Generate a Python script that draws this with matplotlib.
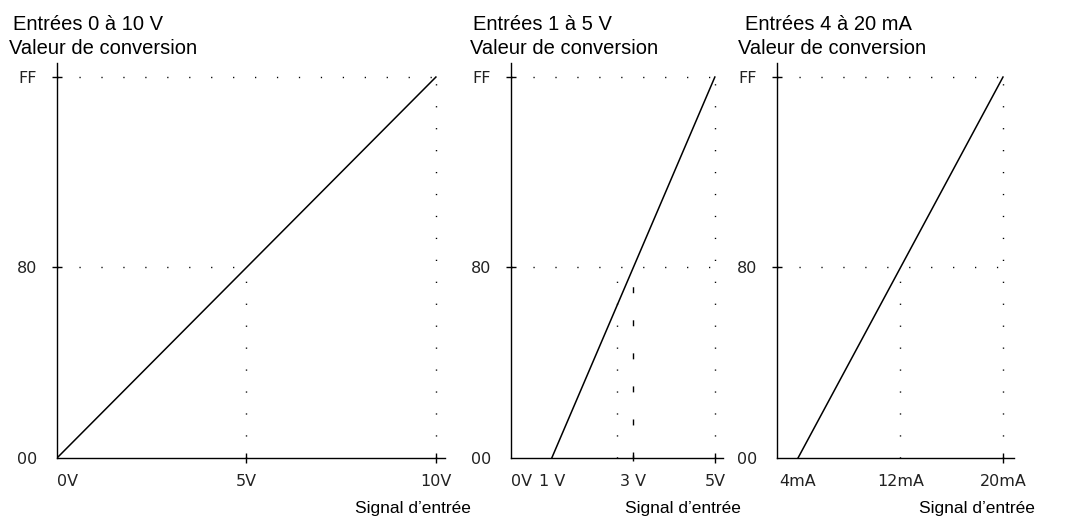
import matplotlib
matplotlib.use("Agg")
import matplotlib.pyplot as plt

plt.rcParams['font.family'] = ['Liberation Sans', 'DejaVu Sans']

W, H = 1065, 521

# conversion value range (hex)
y_ticks = [0x00, 0x80, 0xFF]
y_labels = ['00', '80', 'FF']

# panel 1 : 0-10 V
p1_line_x = [0, 10]
p1_line_y = [0x00, 0xFF]
p1_ticks = [0, 5, 10]
p1_labels = ['0V', '5V', '10V']

# panel 2 : 1-5 V
p2_line_x = [1, 5]
p2_line_y = [0x00, 0xFF]
p2_ticks = [0, 1, 3, 5]
p2_labels = ['0V', '1 V', '3 V', '5V']
p2_mid_dotted = 2.6
p2_mid_dashed = 3

# panel 3 : 4-20 mA
p3_line_x = [4, 20]
p3_line_y = [0x00, 0xFF]
p3_ticks = [4, 12, 20]
p3_labels = ['4mA', '12mA', '20mA']

titles = ['Entrées 0 à 10 V', 'Entrées 1 à 5 V', 'Entrées 4 à 20 mA']

DOT = (0, (0.9, 14.9))
DASH = (0, (4.3, 19.5))
TICK_FONT = ['DejaVu Sans']


def px_axes(fig, left, right, top, bottom):
    return fig.add_axes([left / W, 1 - bottom / H, (right - left) / W, (bottom - top) / H])


def setup(ax, xlim, ticks, labels, hide_x):
    ax.set_xlim(*xlim)
    ax.set_ylim(0, 264.4)
    for s in ['top', 'right']:
        ax.spines[s].set_visible(False)
    for s in ['left', 'bottom']:
        ax.spines[s].set_linewidth(1.0)
    ax.set_xticks(ticks, labels, family=TICK_FONT, color='#222222')
    ax.set_yticks(y_ticks, y_labels, family=TICK_FONT, color='#222222')
    ax.tick_params(direction='inout', length=7, width=1.0, labelsize=11.5)
    ax.tick_params(axis='y', pad=11)
    ax.tick_params(axis='x', pad=8)
    for i in hide_x:
        ax.xaxis.get_major_ticks()[i].tick1line.set_visible(False)
    ax.yaxis.get_major_ticks()[0].tick1line.set_visible(False)


fig = plt.figure(figsize=(W / 100, H / 100), dpi=100)

# panel 1
ax1 = px_axes(fig, 57, 445, 63, 458)
setup(ax1, (0, 10.24), p1_ticks, p1_labels, [0])
ax1.get_xticklabels()[0].set_horizontalalignment('left')
ax1.plot([0, p1_line_x[1]], [0xFF, 0xFF], color='k', lw=1, ls=DOT)
ax1.plot([p1_line_x[1]] * 2, [0, 0xFF], color='k', lw=1, ls=DOT)
ax1.plot([0, p1_ticks[1]], [0x80, 0x80], color='k', lw=1, ls=DOT)
ax1.plot([p1_ticks[1]] * 2, [0, 0x80], color='k', lw=1, ls=DOT)
ax1.plot(p1_line_x, p1_line_y, color='k', lw=1.1)

# panel 2
ax2 = px_axes(fig, 511, 723, 63, 458)
setup(ax2, (0, 5.2), p2_ticks, p2_labels, [0, 1])
ax2.get_xticklabels()[0].set_horizontalalignment('left')
ax2.xaxis.get_major_ticks()[2].tick1line.set_markersize(4)
ax2.plot([0, p2_line_x[1]], [0xFF, 0xFF], color='k', lw=1, ls=DOT)
ax2.plot([p2_line_x[1]] * 2, [0, 0xFF], color='k', lw=1, ls=DOT)
ax2.plot([0, p2_line_x[1]], [0x80, 0x80], color='k', lw=1, ls=DOT)
ax2.plot([p2_mid_dotted] * 2, [0, 0x80], color='k', lw=1, ls=DOT)
ax2.plot([p2_mid_dashed] * 2, [0, 0x80], color='k', lw=1, ls=DASH)
ax2.plot(p2_line_x, p2_line_y, color='k', lw=1.1)

# panel 3
ax3 = px_axes(fig, 777, 1014, 63, 458)
x0 = 2.36
setup(ax3, (x0, 20.86), p3_ticks, p3_labels, [0, 1])
ax3.plot([x0, p3_line_x[1]], [0xFF, 0xFF], color='k', lw=1, ls=DOT)
ax3.plot([p3_line_x[1]] * 2, [0, 0xFF], color='k', lw=1, ls=DOT)
ax3.plot([x0, p3_line_x[1]], [0x80, 0x80], color='k', lw=1, ls=DOT)
ax3.plot([p3_ticks[1]] * 2, [0, 0x80], color='k', lw=1, ls=DOT)
ax3.plot(p3_line_x, p3_line_y, color='k', lw=1.1)

# titles and axis names
title_x = [13, 473, 745]
value_x = [9, 470, 738]
signal_x = [355, 625, 919]
for t, tx, vx, sx in zip(titles, title_x, value_x, signal_x):
    fig.text(tx / W, 1 - 24 / H, t, fontsize=14.5, va='center', ha='left')
    fig.text(vx / W, 1 - 49 / H, 'Valeur de conversion', fontsize=14.5, va='center', ha='left')
    fig.text(sx / W, 1 - 508 / H, 'Signal d\u2019entrée', fontsize=12.5, va='center', ha='left')

fig.savefig('out.png', dpi=100)
